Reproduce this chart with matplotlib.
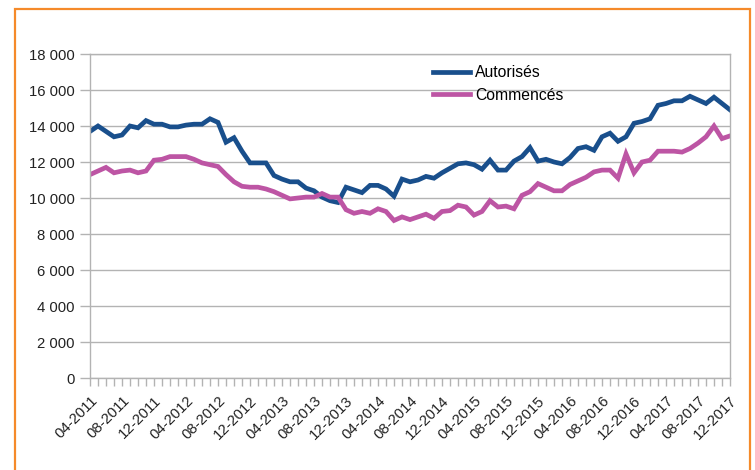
import matplotlib
matplotlib.use("Agg")
import matplotlib.pyplot as plt
from matplotlib.patches import Rectangle
import pandas as pd

plt.rcParams['font.family'] = ['Liberation Sans', 'DejaVu Sans']

# monthly series, 04-2011 .. 12-2017
months = pd.date_range("2011-04-01", "2017-12-01", freq="MS")

autorises = [
    13700, 14000, 13700, 13400, 13500, 14000, 13900, 14300, 14100, 14100,
    13950, 13950, 14050, 14100, 14100, 14400, 14200, 13100, 13350, 12600,
    11950, 11950, 11950, 11250, 11050, 10900, 10900, 10550, 10400, 10050,
    9850, 9750, 10600, 10450, 10300, 10700, 10700, 10500, 10100, 11050,
    10900, 11000, 11200, 11100, 11400, 11650, 11900, 11950, 11850, 11600,
    12100, 11550, 11550, 12050, 12300, 12800, 12050, 12150, 12000, 11900,
    12250, 12750, 12850, 12650, 13400, 13600, 13150, 13400, 14150, 14250,
    14400, 15150, 15250, 15400, 15400, 15650, 15450, 15250, 15600, 15250,
    14900,
]

commences = [
    11300, 11500, 11700, 11400, 11500, 11550, 11400, 11500, 12100, 12150,
    12300, 12300, 12300, 12150, 11950, 11850, 11750, 11300, 10900, 10650,
    10600, 10600, 10500, 10350, 10150, 9950, 10000, 10050, 10050, 10250,
    10050, 10050, 9350, 9150, 9250, 9150, 9400, 9250, 8750, 8950,
    8800, 8950, 9100, 8870, 9250, 9300, 9600, 9500, 9050, 9250,
    9850, 9500, 9550, 9400, 10150, 10350, 10800, 10600, 10400, 10400,
    10750, 10950, 11150, 11450, 11550, 11550, 11100, 12450, 11400, 12000,
    12100, 12600, 12600, 12600, 12550, 12750, 13050, 13400, 14000, 13300,
    13450,
]

y_ticks = list(range(0, 18001, 2000))

grey = "#b3b3b3"
blue = "#194f8c"
pink = "#bd55a4"

fig = plt.figure(figsize=(7.55, 4.70), dpi=100)
ax = fig.add_axes([90 / 755, 1 - 378 / 470, 640 / 755, 324 / 470])

x = list(range(len(months)))
ax.plot(x, autorises, color=blue, lw=3.4, label="Autorisés", solid_joinstyle="miter")
ax.plot(x, commences, color=pink, lw=3.4, label="Commencés", solid_joinstyle="miter")

ax.set_xlim(0, len(months) - 1)
ax.set_ylim(0, 18000)

ax.set_yticks(y_ticks)
ax.set_yticklabels([f"{v:,}".replace(",", " ") for v in y_ticks])

major = x[::4]
ax.set_xticks(major)
ax.set_xticklabels([months[i].strftime("%m-%Y") for i in major],
                   rotation=45, ha="right", va="top", rotation_mode="anchor")
ax.set_xticks(x, minor=True)

ax.grid(axis="y", color=grey, lw=1)
ax.set_axisbelow(True)
for s in ax.spines.values():
    s.set_color(grey)
    s.set_linewidth(1)

ax.tick_params(axis="both", which="both", direction="out", color=grey,
               width=1, length=6, labelsize=10.7, labelcolor="#222222")
ax.tick_params(axis="y", length=7, pad=4)
ax.tick_params(axis="x", which="both", pad=5)

ax.legend(loc="upper left", bbox_to_anchor=(433 / 755, 1 - 65 / 470),
          bbox_transform=fig.transFigure, frameon=False, fontsize=11.3,
          handlelength=2.35, handletextpad=0.35, labelspacing=0.5, borderpad=0,
          borderaxespad=0)

# orange frame around the figure
fig.patches.append(Rectangle((15 / 755, -0.05), 735 / 755, 1.05 - 9 / 470,
                             transform=fig.transFigure, fill=False,
                             edgecolor="#f58a2a", lw=1.6))

fig.savefig("out.png", dpi=100)
